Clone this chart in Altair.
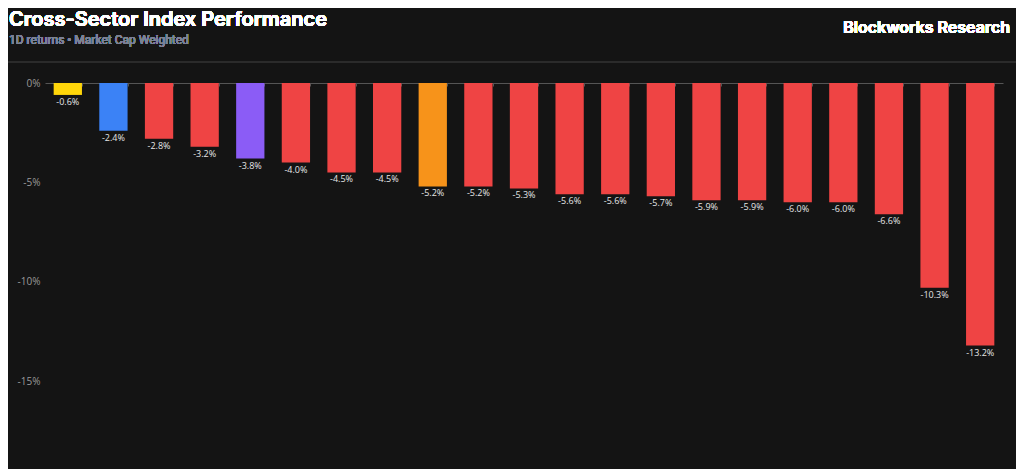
import altair as alt
import pandas as pd

sectors = [f"Index {i}" for i in range(1, 22)]
returns = [-0.6, -2.4, -2.8, -3.2, -3.8, -4.0, -4.5, -4.5, -5.2, -5.2, -5.3,
           -5.6, -5.6, -5.7, -5.9, -5.9, -6.0, -6.0, -6.6, -10.3, -13.2]
colors = ["#FFD60A", "#3B82F6", "#EF4444", "#EF4444", "#8B5CF6", "#EF4444",
          "#EF4444", "#EF4444", "#F7931A", "#EF4444", "#EF4444", "#EF4444",
          "#EF4444", "#EF4444", "#EF4444", "#EF4444", "#EF4444", "#EF4444",
          "#EF4444", "#EF4444", "#EF4444"]
labels = [f"{v:.1f}%" for v in returns]

df = pd.DataFrame({"sector": sectors, "ret": returns, "color": colors, "label": labels})

W, H = 958, 350
FONT = "Inter"
LFONT = "Open Sans"

xenc = alt.X("sector:N", sort=sectors,
             scale=alt.Scale(paddingInner=0.38, paddingOuter=0.19),
             axis=alt.Axis(orient="bottom", offset=-H, labels=False, title=None,
                           domainColor="#555555", tickColor="#555555", tickSize=3,
                           tickBand="extent", grid=False))
yenc = alt.Y("ret:Q", scale=alt.Scale(domain=[-17.6, 0], nice=False),
             axis=alt.Axis(values=[0, -5, -10, -15], labelExpr="datum.value + '%'",
                           title=None, domain=False, ticks=False, grid=False,
                           labelColor="#9a9a9a", labelFontSize=10, labelFont=LFONT,
                           labelPadding=5))

bars = alt.Chart(df).mark_bar().encode(
    x=xenc, y=yenc, color=alt.Color("color:N", scale=None)
)

text = alt.Chart(df).mark_text(baseline="top", dy=3, fontSize=9, font=LFONT,
                               color="#e5e5e5").encode(
    x=alt.X("sector:N", sort=sectors), y="ret:Q", text="label:N"
)

sep = alt.Chart(df).mark_rule(color="#2c2c2c", strokeWidth=1).encode(
    x=alt.value(-37), x2=alt.value(971), y=alt.value(-21)
)

title = alt.Chart(df).mark_text(align="left", baseline="alphabetic", fontSize=20,
                                fontWeight=600, font=FONT, color="#ffffff").encode(
    x=alt.value(-36), y=alt.value(-57), text=alt.value("Cross-Sector Index Performance")
)
subtitle = alt.Chart(df).mark_text(align="left", baseline="alphabetic", fontSize=12,
                                   fontWeight="normal", font="Roboto", color="#7c8297").encode(
    x=alt.value(-36), y=alt.value(-39), text=alt.value("1D returns • Market Cap Weighted")
)
brand = alt.Chart(df).mark_text(align="right", baseline="alphabetic", fontSize=16,
                                fontWeight=600, font=FONT, color="#ffffff").encode(
    x=alt.value(965), y=alt.value(-50), text=alt.value("Blockworks Research")
)

chart = alt.layer(sep, bars, text, title, subtitle, brand).properties(
    width=W, height=H,
    autosize=alt.AutoSizeParams(type="none"),
    padding={"left": 37, "top": 75, "right": 13, "bottom": 36},
    background="#141414",
).configure_view(stroke=None)

chart.save("out.html", embed_options={"renderer": "svg", "actions": False})
